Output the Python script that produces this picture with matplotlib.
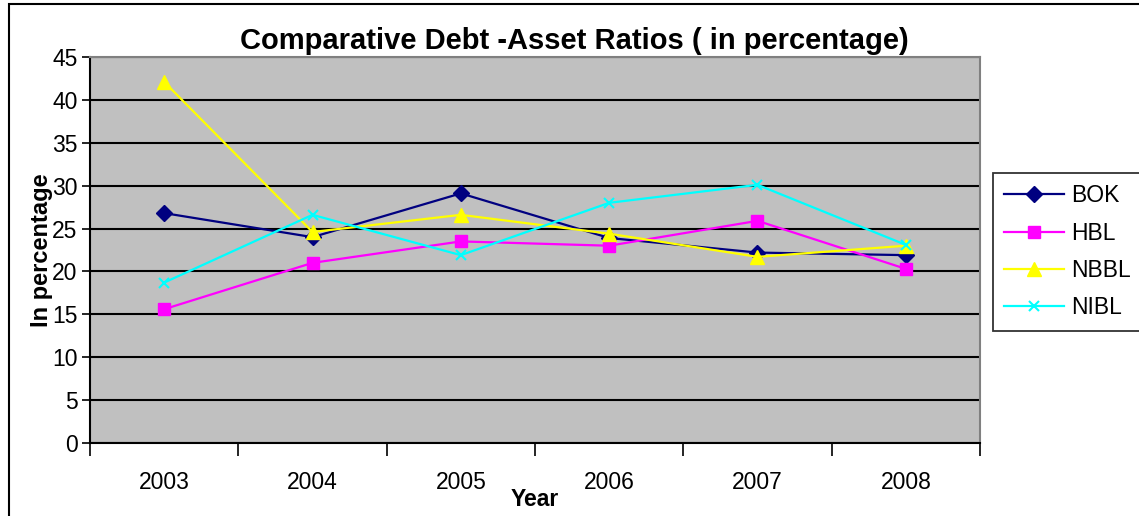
import numpy as np
import matplotlib.pyplot as plt
from matplotlib.patches import Rectangle

plt.rcParams['font.family'] = ['Liberation Sans', 'DejaVu Sans']

years = ["2003", "2004", "2005", "2006", "2007", "2008"]
bok = [26.8, 24.0, 29.1, 23.9, 22.2, 21.9]
hbl = [15.6, 21.0, 23.5, 23.0, 25.9, 20.3]
nbbl = [42.1, 24.6, 26.6, 24.4, 21.7, 23.0]
nibl = [18.7, 26.6, 21.9, 28.0, 30.1, 23.1]

fig = plt.figure(figsize=(11.39, 5.16), dpi=100)
ax = fig.add_axes([90/1139, 73/516, 890/1139, 386/516])
ax.set_facecolor("#C0C0C0")

x = np.arange(len(years))
ax.plot(x, bok, color="#000080", lw=1.6, marker="D", ms=8, label="BOK")
ax.plot(x, hbl, color="#FF00FF", lw=1.6, marker="s", ms=8, label="HBL")
ax.plot(x, nbbl, color="#FFFF00", lw=1.6, marker="^", ms=10, label="NBBL")
ax.plot(x, nibl, color="#00FFFF", lw=1.6, marker="x", ms=7, mew=1.5, label="NIBL")

ax.set_xlim(-0.5, len(years) - 0.5)
ax.set_ylim(0, 45)
ax.set_yticks(np.arange(0, 46, 5))
ax.yaxis.grid(True, color="black", lw=1.5)
ax.set_axisbelow(True)

ax.set_xticks(np.arange(-0.5, len(years), 1.0))
ax.set_xticklabels([])
ax.set_xticks(x, minor=True)
ax.set_xticklabels(years, minor=True)
ax.tick_params(axis="x", which="major", direction="out", length=9, width=1.2)
ax.tick_params(axis="x", which="minor", length=0, pad=20, labelsize=16.5)
ax.tick_params(axis="y", direction="out", length=6, width=1.2, labelsize=16.5, pad=3)

for s in ["top", "right"]:
    ax.spines[s].set_color("#808080")
    ax.spines[s].set_linewidth(1.5)
for s in ["left", "bottom"]:
    ax.spines[s].set_color("black")
    ax.spines[s].set_linewidth(1.5)

fig.text(0.504, 0.905, "Comparative Debt -Asset Ratios ( in percentage)",
         ha="center", va="baseline", fontsize=21, fontweight="bold")
ax.set_xlabel("Year", fontsize=16.5, fontweight="bold", labelpad=-4)
ax.set_ylabel("In percentage", fontsize=17, fontweight="bold", labelpad=-1)

leg = ax.legend(loc="upper left", bbox_to_anchor=(993/1139, 343/516),
                bbox_transform=fig.transFigure, borderaxespad=0, fontsize=16.5,
                frameon=True, fancybox=False, edgecolor="black", borderpad=0.5,
                handlelength=2.6, labelspacing=0.62, handletextpad=0.3)
leg.get_frame().set_linewidth(1.3)

fig.patches.append(Rectangle((9/1139, -0.1), 1.2, 1.1 - 4/516, transform=fig.transFigure,
                             fill=False, edgecolor="black", lw=1.5))

fig.savefig("out.png", dpi=100)
